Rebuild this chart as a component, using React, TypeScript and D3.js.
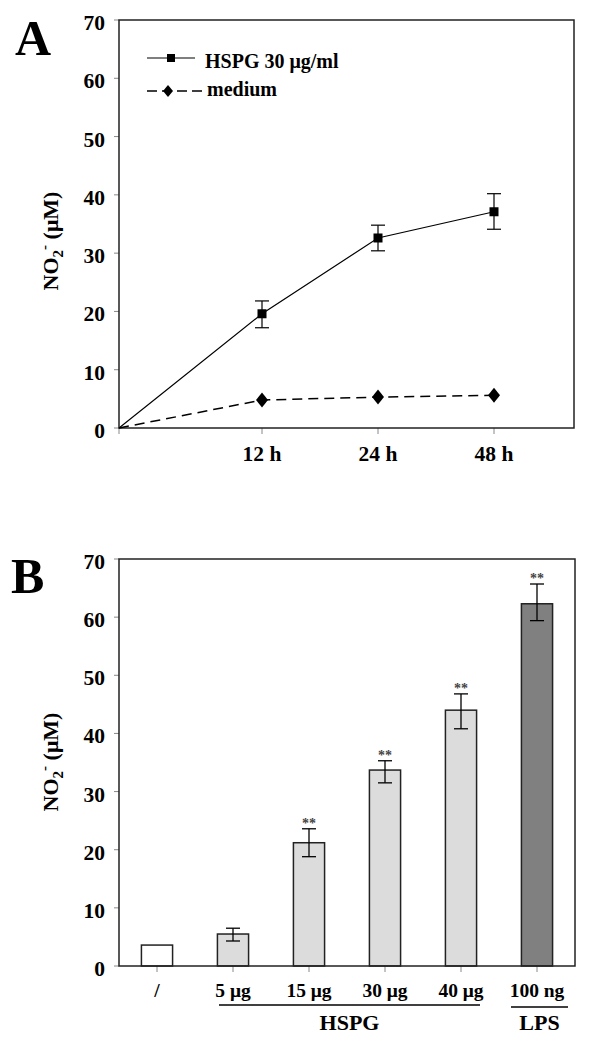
import React from "react";
import * as d3 from "d3";

// ---------- Panel A data ----------
const timeLabels = ["", "12 h", "24 h", "48 h"];
const hspgValues = [0, 19.6, 32.6, 37.1];
const hspgErrLow = [NaN, 17.2, 30.4, 34.1];
const hspgErrHigh = [NaN, 21.8, 34.8, 40.2];
const mediumValues = [0, 4.8, 5.3, 5.6];
const yTicks = [0, 10, 20, 30, 40, 50, 60, 70];

// ---------- Panel B data ----------
const doseLabels = ["/", "5 μg", "15 μg", "30 μg", "40 μg", "100 ng"];
const doseValues = [3.6, 5.5, 21.2, 33.7, 44.0, 62.3];
const doseErrLow = [NaN, 4.3, 18.8, 31.5, 40.8, 59.4];
const doseErrHigh = [NaN, 6.5, 23.6, 35.3, 46.8, 65.7];
const doseGroups = ["none", "HSPG", "HSPG", "HSPG", "HSPG", "LPS"];
const significance = ["", "", "**", "**", "**", "**"];

const FONT = "'Liberation Serif', 'Times New Roman', serif";
const groupFill: Record<string, string> = { none: "#ffffff", HSPG: "#dcdcdc", LPS: "#808080" };

function YLabel({ x, y }: { x: number; y: number }) {
  return (
    <text
      transform={`translate(${x},${y}) rotate(-90)`}
      textAnchor="middle"
      fontFamily={FONT}
      fontWeight="bold"
      fontSize={22}
      fill="#000"
    >
      NO
      <tspan fontSize={15} dy={5}>2</tspan>
      <tspan fontSize={15} dy={-14}>-</tspan>
      <tspan dy={9}> (μM)</tspan>
    </text>
  );
}

function YAxis({ y, left }: { y: d3.ScaleLinear<number, number>; left: number }) {
  return (
    <g>
      {yTicks.map((t) => (
        <g key={t}>
          <line x1={left - 5} x2={left} y1={y(t)} y2={y(t)} stroke="#888" strokeWidth={1} />
          <text
            x={left - 14}
            y={y(t) + 10}
            textAnchor="end"
            fontFamily={FONT}
            fontWeight="bold"
            fontSize={21.5}
          >
            {t}
          </text>
        </g>
      ))}
    </g>
  );
}

function PanelA() {
  const left = 119, right = 574, top = 20, bottom = 428;
  const x = d3.scaleLinear().domain([0, 1, 2, 3, 3.69]).range([119, 262, 378, 494, 574]);
  const y = d3.scaleLinear().domain([0, 70]).range([bottom, top]);
  const idx = timeLabels.map((_, i) => i);
  const hspgPath = d3.line<number>().x((_, i) => x(i)).y((v) => y(v))(hspgValues) || "";
  const medPath = d3.line<number>().x((_, i) => x(i)).y((v) => y(v))(mediumValues) || "";
  const cap = 7;
  const sq = 9;
  const diamond = (cx: number, cy: number, w = 6, h = 7.5) =>
    `M${cx},${cy - h}L${cx + w},${cy}L${cx},${cy + h}L${cx - w},${cy}Z`;
  return (
    <g>
      <text x={15} y={55} fontFamily={FONT} fontWeight="bold" fontSize={50}>A</text>
      <YLabel x={58} y={241} />
      <YAxis y={y} left={left} />
      {idx.map((i) => (
        <g key={i}>
          <line x1={x(i)} x2={x(i)} y1={bottom} y2={bottom + 6} stroke="#888" strokeWidth={1} />
          <text x={x(i)} y={461} textAnchor="middle" fontFamily={FONT} fontWeight="bold" fontSize={21.5}>
            {timeLabels[i]}
          </text>
        </g>
      ))}
      <rect x={left} y={top} width={right - left} height={bottom - top} fill="none" stroke="#222" strokeWidth={1.5} />
      <path d={medPath} fill="none" stroke="#000" strokeWidth={1.5} strokeDasharray="10,6" />
      <path d={hspgPath} fill="none" stroke="#000" strokeWidth={1.2} />
      {idx.map((i) =>
        isNaN(hspgErrLow[i]) ? null : (
          <g key={"e" + i} stroke="#000" strokeWidth={1.2}>
            <line x1={x(i)} x2={x(i)} y1={y(hspgErrLow[i])} y2={y(hspgErrHigh[i])} />
            <line x1={x(i) - cap} x2={x(i) + cap} y1={y(hspgErrLow[i])} y2={y(hspgErrLow[i])} />
            <line x1={x(i) - cap} x2={x(i) + cap} y1={y(hspgErrHigh[i])} y2={y(hspgErrHigh[i])} />
          </g>
        )
      )}
      {idx.slice(1).map((i) => (
        <rect key={"s" + i} x={x(i) - sq / 2} y={y(hspgValues[i]) - sq / 2} width={sq} height={sq} fill="#000" />
      ))}
      {idx.slice(1).map((i) => (
        <path key={"d" + i} d={diamond(x(i), y(mediumValues[i]))} fill="#000" />
      ))}
      {/* legend */}
      <line x1={147} x2={195} y1={58} y2={58} stroke="#000" strokeWidth={1.2} />
      <rect x={171 - 4} y={58 - 4} width={8} height={8} fill="#000" />
      <text x={205} y={68} fontFamily={FONT} fontWeight="bold" fontSize={20}>HSPG 30 μg/ml</text>
      <line x1={147} x2={202} y1={91} y2={91} stroke="#000" strokeWidth={1.5} strokeDasharray="10,5" />
      <path d={diamond(168, 91, 5, 6)} fill="#000" />
      <text x={207} y={96} fontFamily={FONT} fontWeight="bold" fontSize={20}>medium</text>
    </g>
  );
}

function PanelB() {
  const left = 119, right = 575, top = 559, bottom = 966;
  const x = d3.scaleBand<string>().domain(doseLabels).range([left, right]).padding(0);
  const y = d3.scaleLinear().domain([0, 70]).range([bottom, top]);
  const bw = x.bandwidth() * 0.41;
  const cx = (d: string) => (x(d) as number) + x.bandwidth() / 2;
  const cap = 7;
  const hspgIdx = doseGroups.map((g, i) => (g === "HSPG" ? i : -1)).filter((i) => i >= 0);
  const lpsIdx = doseGroups.map((g, i) => (g === "LPS" ? i : -1)).filter((i) => i >= 0);
  const hx1 = cx(doseLabels[hspgIdx[0]]) - 14;
  const hx2 = cx(doseLabels[hspgIdx[hspgIdx.length - 1]]) + 19;
  const lx1 = cx(doseLabels[lpsIdx[0]]) - 26;
  const lx2 = cx(doseLabels[lpsIdx[0]]) + 31;
  return (
    <g>
      <text x={11} y={593} fontFamily={FONT} fontWeight="bold" fontSize={50}>B</text>
      <YLabel x={58} y={762} />
      <YAxis y={y} left={left} />
      {doseLabels.map((d, i) => (
        <g key={d}>
          <line x1={cx(d)} x2={cx(d)} y1={bottom} y2={bottom + 6} stroke="#888" strokeWidth={1} />
          <text x={cx(d)} y={997} textAnchor="middle" fontFamily={FONT} fontWeight="bold" fontSize={19.5}>
            {d}
          </text>
          <rect
            x={cx(d) - bw / 2}
            y={y(doseValues[i])}
            width={bw}
            height={bottom - y(doseValues[i])}
            fill={groupFill[doseGroups[i]]}
            stroke="#222"
            strokeWidth={1.5}
          />
          {!isNaN(doseErrLow[i]) && (
            <g stroke="#000" strokeWidth={1.3}>
              <line x1={cx(d)} x2={cx(d)} y1={y(doseErrLow[i])} y2={y(doseErrHigh[i])} />
              <line x1={cx(d) - cap} x2={cx(d) + cap} y1={y(doseErrLow[i])} y2={y(doseErrLow[i])} />
              <line x1={cx(d) - cap} x2={cx(d) + cap} y1={y(doseErrHigh[i])} y2={y(doseErrHigh[i])} />
            </g>
          )}
          {significance[i] && (
            <text
              x={cx(d)}
              y={y(doseErrHigh[i]) - 1}
              textAnchor="middle"
              fontFamily={FONT}
              fontWeight="bold"
              fontSize={14}
              fill="#444"
            >
              {significance[i]}
            </text>
          )}
        </g>
      ))}
      <rect x={left} y={top} width={right - left} height={bottom - top} fill="none" stroke="#222" strokeWidth={1.5} />
      <line x1={hx1} x2={hx2} y1={1005} y2={1005} stroke="#000" strokeWidth={1.3} />
      <text x={(hx1 + hx2) / 2} y={1030} textAnchor="middle" fontFamily={FONT} fontWeight="bold" fontSize={22}>HSPG</text>
      <line x1={lx1} x2={lx2} y1={1007} y2={1007} stroke="#000" strokeWidth={1.3} />
      <text x={(lx1 + lx2) / 2} y={1030} textAnchor="middle" fontFamily={FONT} fontWeight="bold" fontSize={22}>LPS</text>
    </g>
  );
}

export default function App() {
  return (
    <svg
      width={600}
      height={1050}
      style={{ position: "absolute", left: 0, top: 0, background: "#fff" }}
    >
      <rect width={600} height={1050} fill="#fff" />
      <PanelA />
      <PanelB />
    </svg>
  );
}
